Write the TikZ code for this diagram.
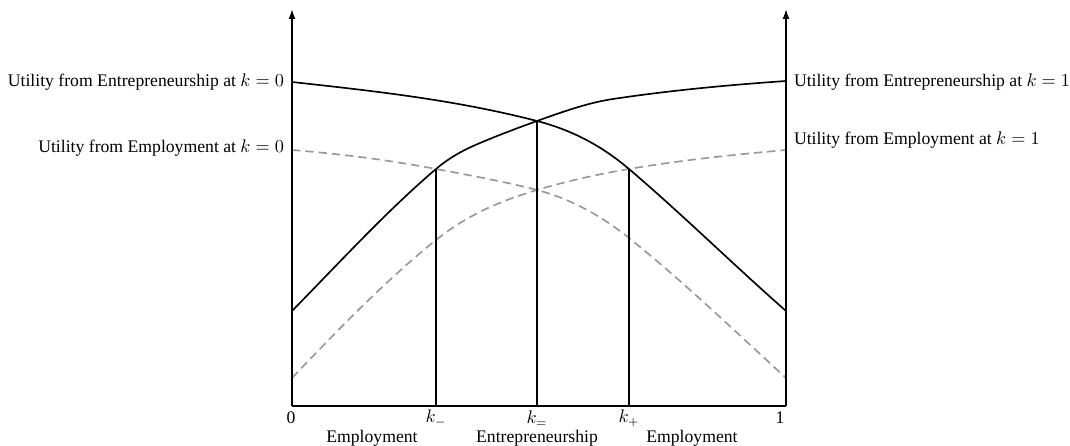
\documentclass[tikz,border=0pt]{standalone}
\usepackage{fontspec}
\setmainfont{Liberation Serif}
\usetikzlibrary{arrows.meta}
\begin{document}
\begin{tikzpicture}[x=0.6pt,y=-0.6pt,
  axis/.style={line width=1pt,black},
  solidcurve/.style={line width=1pt,black,line join=round},
  dashcurve/.style={line width=1pt,gray!80,dash pattern=on 5pt off 3pt},
  vline/.style={line width=0.9pt,black},
  lab/.style={font=\fontsize{10.6}{12}\selectfont,inner sep=1pt}]
\useasboundingbox (0,0) rectangle (1070,446);
\coordinate (O) at (292,406);
\coordinate (R) at (786,406);
\coordinate (Ltop) at (292,9);
\coordinate (Rtop) at (786,9);
\coordinate (km) at (436,406);
\coordinate (ke) at (537,406);
\coordinate (kp) at (629,406);
\coordinate (kmt) at (436,169);
\coordinate (ket) at (537,121);
\coordinate (kpt) at (629,169);
% dashed curves
\draw[dashcurve] (292,150) .. controls (340,153.84) and (388,159.9) .. (436,169)
  .. controls (469.67,175.4) and (503.33,181.25) .. (537,190)
  .. controls (567.67,198.0) and (598.33,213.5) .. (629,238)
  .. controls (681.33,279.9) and (733.67,329.9) .. (786,378);
\draw[dashcurve] (292,378) .. controls (340,327.6) and (388,278.4) .. (436,240)
  .. controls (469.67,213.1) and (503.33,200.1) .. (537,190)
  .. controls (567.67,180.8) and (598.33,174.2) .. (629,169)
  .. controls (681.33,160.1) and (733.67,154.7) .. (786,150);
% solid curves
\draw[solidcurve] (292,82) .. controls (373.7,91.0) and (455.3,99.8) .. (ket)
  .. controls (567.7,129.0) and (598.3,142.9) .. (kpt)
  .. controls (681.3,213.5) and (733.7,265.0) .. (786,311);
\draw[solidcurve] (292,311) .. controls (340,262.0) and (388,209.8) .. (kmt)
  .. controls (450.67,156.5) and (465.33,149.2) .. (480,143)
  .. controls (499,135.0) and (518,127.8) .. (ket)
  .. controls (562.33,111.9) and (587.67,102.8) .. (613,99)
  .. controls (670.67,90.35) and (728.33,85.0) .. (786,81);
% verticals
\draw[vline] (km) -- (kmt);
\draw[vline] (ke) -- (ket);
\draw[vline] (kp) -- (kpt);
% axes
\draw[axis,-{Latex[length=6pt,width=4.2pt]}] (O) -- (Ltop);
\draw[axis,-{Latex[length=6pt,width=4.2pt]}] (R) -- (Rtop);
\draw[axis] (O) -- (R);
% labels
\node[lab,anchor=east] (l1) at (286,82) {Utility from Entrepreneurship at $k=0$};
\node[lab,anchor=east] (l2) at (286,148) {Utility from Employment at $k=0$};
\node[lab,anchor=west] (r1) at (792,82) {Utility from Entrepreneurship at $k=1$};
\node[lab,anchor=west] (r2) at (792,140) {Utility from Employment at $k=1$};
\node[lab] (t0) at (291,418) {0};
\node[lab] (tkm) at (436,418) {$k_-$};
\node[lab] (tke) at (537,419) {$k_=$};
\node[lab] (tkp) at (629,418) {$k_+$};
\node[lab] (t1) at (780,418) {1};
\node[lab] (e1) at (372,438) {Employment};
\node[lab] (e2) at (537,438) {Entrepreneurship};
\node[lab] (e3) at (692,438) {Employment};
\end{tikzpicture}
\end{document}
